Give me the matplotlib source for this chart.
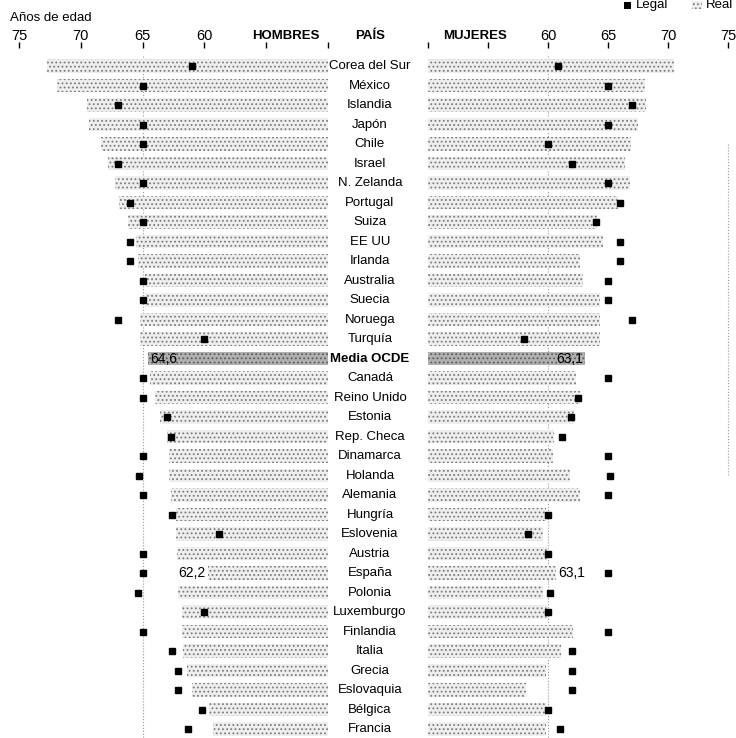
import matplotlib
matplotlib.use('Agg')
import matplotlib.pyplot as plt
import matplotlib.transforms as mtransforms
from matplotlib.patches import Rectangle
import numpy as np

plt.rcParams['font.family'] = ['Liberation Sans', 'DejaVu Sans']
plt.rcParams['hatch.linewidth'] = 0.8

# Data (años de edad)
paises = ['Corea del Sur', 'México', 'Islandia', 'Japón', 'Chile', 'Israel', 'N. Zelanda',
          'Portugal', 'Suiza', 'EE UU', 'Irlanda', 'Australia', 'Suecia', 'Noruega', 'Turquía',
          'Media OCDE', 'Canadá', 'Reino Unido', 'Estonia', 'Rep. Checa', 'Dinamarca', 'Holanda',
          'Alemania', 'Hungría', 'Eslovenia', 'Austria', 'España', 'Polonia', 'Luxemburgo',
          'Finlandia', 'Italia', 'Grecia', 'Eslovaquia', 'Bélgica', 'Francia']
hombres_real = [72.7, 71.9, 69.5, 69.3, 68.4, 67.8, 67.2, 66.9, 66.2, 65.5, 65.4, 64.8, 64.8,
                65.2, 65.2, 64.6, 64.4, 64.0, 63.6, 63.0, 62.9, 62.9, 62.7, 62.3, 62.3, 62.2,
                62.2, 62.1, 61.8, 61.8, 61.7, 61.4, 61.0, 59.6, 59.3]
hombres_legal = [61, 65, 67, 65, 65, 67, 65, 66, 65, 66, 66, 65, 65, 67, 60, None, 65, 65, 63,
                 62.7, 65, 65.3, 65, 62.6, 58.8, 65, 65, 65.4, 60, 65, 62.6, 62.1, 62.1, 60.2, 61.3]
mujeres_real = [70.5, 68.1, 68.2, 67.5, 66.9, 66.4, 66.8, 65.8, 64.1, 64.6, 62.7, 62.9, 64.3,
                64.3, 64.3, 63.1, 62.3, 62.7, 62.2, 60.5, 60.4, 61.8, 62.7, 59.8, 59.6, 59.9,
                63.1, 59.6, 59.9, 62.1, 61.1, 59.8, 58.2, 59.8, 59.8]
mujeres_legal = [60.8, 65, 67, 65, 60, 62, 65, 66, 64, 66, 66, 65, 65, 67, 58, None, 65, 62.5,
                 61.9, 61.2, 65, 65.2, 65, 60, 58.3, 60, 65, 60.2, 60, 65, 62, 62, 62, 60, 61]
ticks = [50, 55, 60, 65, 70, 75]
tick_labels_h = ['', 'HOMBRES', '60', '65', '70', '75']
tick_labels_m = ['', 'MUJERES', '60', '65', '70', '75']
etiquetas = {'Media OCDE': ('64,6', '63,1'), 'España': ('62,2', '63,1')}

W, H = 736, 738
fig = plt.figure(figsize=(W / 100, H / 100), dpi=100)

# pixel geometry
row0, rowstep = 66, 19.5
ylim = ((H - row0) / rowstep, -row0 / rowstep)
axL = fig.add_axes([10 / W, 0, (328 - 10) / W, 1])
axR = fig.add_axes([428 / W, 0, (736 - 428) / W, 1])
axL.set_xlim(50 + (328 - 10) / 12.36, 50)
axR.set_xlim(50, 50 + (736 - 428) / 12.0)
for ax in (axL, axR):
    ax.set_ylim(*ylim)
    ax.axis('off')

y = np.arange(len(paises))
bar_h = 0.68
grey = '#eeeeee'
dark = '#b0b0b0'

def draw(ax, real, legal):
    colors = [dark if p == 'Media OCDE' else grey for p in paises]
    bars = ax.barh(y, np.array(real) - 50, left=50, height=bar_h, color=colors,
                   hatch='....', edgecolor='#7c7c7c', linewidth=0, zorder=2)
    for b, p in zip(bars, paises):
        if p == 'Media OCDE':
            b.set_edgecolor('#5c5c5c')
    lv = [v for v in legal if v is not None]
    ly = [yy for yy, v in zip(y, legal) if v is not None]
    ax.plot(lv, ly, 's', color='black', markersize=5, zorder=4, clip_on=False)

draw(axL, hombres_real, hombres_legal)
draw(axR, mujeres_real, mujeres_legal)

# dotted reference lines
axL.vlines(65, -0.5, len(paises) - 0.5, colors='#9a9a9a', linestyles=':', linewidth=0.8, zorder=1)
axR.vlines(60, -0.5, len(paises) - 0.5, colors='#9a9a9a', linestyles=':', linewidth=0.8, zorder=1)
axR.vlines(75, 4, 21, colors='#9a9a9a', linestyles=':', linewidth=0.8, zorder=1)

# ticks and tick labels
tick_y0, tick_y1 = (42 - row0) / rowstep, (48 - row0) / rowstep
lab_y = (36 - row0) / rowstep
for ax, labs, hx in ((axL, tick_labels_h, 53.4), (axR, tick_labels_m, 53.9)):
    ax.vlines(ticks, tick_y0, tick_y1, colors='black', linewidth=1.0, clip_on=False)
    for t, lab in zip(ticks, labs):
        if lab in ('HOMBRES', 'MUJERES'):
            ax.text(hx, lab_y, lab, ha='center', va='center', fontsize=9.5,
                    fontweight='bold')
        elif lab:
            ax.text(t, lab_y, lab, ha='center', va='center', fontsize=10.5)

# value labels
for p, (lh, lm) in etiquetas.items():
    i = paises.index(p)
    hv = hombres_real[i]
    mv = mujeres_real[i]
    if p == 'Media OCDE':
        axL.text(hv - 0.2, i, lh, ha='left', va='center', fontsize=10, zorder=5)
        axR.text(mv - 0.2, i, lm, ha='right', va='center', fontsize=10, zorder=5)
    else:
        axL.text(hv - 0.1, i, lh, ha='left', va='center', fontsize=10, zorder=5,
                 bbox=dict(facecolor='white', edgecolor='none', pad=2))
        axR.text(mv, i, lm, ha='right', va='center', fontsize=10, zorder=5,
                 bbox=dict(facecolor='white', edgecolor='none', pad=2))

# country names
trans = mtransforms.blended_transform_factory(fig.transFigure, axL.transData)
for i, p in enumerate(paises):
    fig.text(370 / W, i, p, transform=trans, ha='center', va='center', fontsize=9.5,
             fontweight='bold' if p == 'Media OCDE' else 'normal')
fig.text(370 / W, lab_y, 'PAÍS', transform=trans, ha='center', va='center',
         fontsize=9.5, fontweight='bold')
fig.text(10 / W, 1 - 18 / H, 'Años de edad', ha='left', va='center', fontsize=9.5)

# legend (top right, partly cut)
fig.patches.append(Rectangle((624 / W, 1 - 9 / H), 7 / W, 7 / H, transform=fig.transFigure,
                             facecolor='black', edgecolor='none'))
fig.text(636 / W, 1 - 5 / H, 'Legal', ha='left', va='center', fontsize=9.5)
fig.patches.append(Rectangle((692 / W, 1 - 9 / H), 10 / W, 8 / H, transform=fig.transFigure,
                             facecolor=grey, hatch='....', edgecolor='#7c7c7c', linewidth=0))
fig.text(706 / W, 1 - 5 / H, 'Real', ha='left', va='center', fontsize=9.5)

fig.savefig('out.png', dpi=100)
